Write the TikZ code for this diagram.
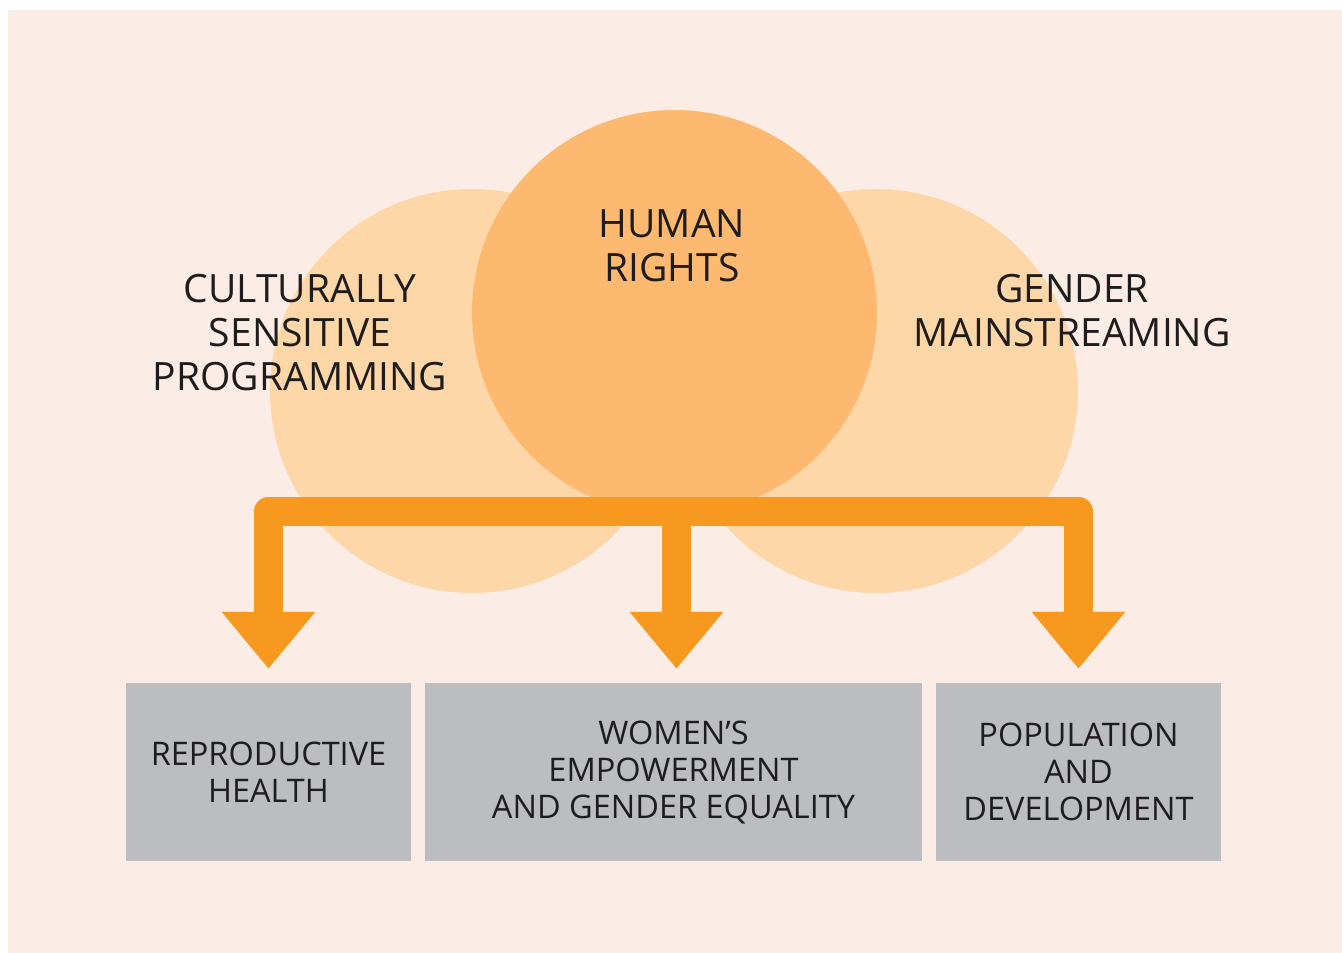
\documentclass[tikz,border=0pt]{standalone}
\usepackage{fontspec}
\setmainfont{Open Sans}
\usepackage{tikz}
\usetikzlibrary{arrows.meta}

\definecolor{bgpeach}{HTML}{FBEDE5}
\definecolor{lightring}{HTML}{FED7A8}
\definecolor{midring}{HTML}{FDB96F}
\definecolor{floworange}{HTML}{F7991E}
\definecolor{areagray}{HTML}{BCBDC0}
\definecolor{inkdark}{HTML}{1F1C1D}

\tikzset{
    ringtext/.style={text=inkdark, align=center, inner sep=0pt,
        font=\fontsize{39}{44}\selectfont},
    areabox/.style={fill=areagray, text=inkdark, align=center, inner sep=0pt,
        minimum height=178pt, font=\fontsize{32.5}{37}\selectfont},
    flow/.style={draw=floworange, line width=29pt, line join=round,
        -{Triangle[width=90pt, length=57pt]}, shorten >=14pt}
}

\begin{document}
\begin{tikzpicture}[x=1pt, y=-1pt]
    \useasboundingbox (0, 0) rectangle (1342, 953);
    \fill[bgpeach] (8, 10) rectangle (1342, 953);
    % three circles
    \fill[lightring] (472, 391) circle[radius=202];
    \fill[lightring] (876, 391) circle[radius=202];
    \fill[midring] (674.5, 312.5) circle[radius=202.5];
    % labels on the circles
    \node[ringtext] (culture) at (300, 333) {CULTURALLY\\SENSITIVE\\PROGRAMMING};
    \node[ringtext] (rights) at (672, 246) {HUMAN\\RIGHTS};
    \node[ringtext] (gender) at (1072, 311) {GENDER\\MAINSTREAMING};
    % the three areas
    \node[areabox, minimum width=285pt] (health) at (268.5, 772) {REPRODUCTIVE\\HEALTH};
    \node[areabox, minimum width=497pt] (women) at (673.5, 772) {WOMEN’S\\EMPOWERMENT\\AND GENDER EQUALITY};
    \node[areabox, minimum width=285pt] (population) at (1078.5, 772) {POPULATION\\AND\\DEVELOPMENT};
    % arrows
    \coordinate (hub) at (676.5, 511.5);
    \draw[flow] (hub) -| (health.north);
    \draw[flow] (hub) -| (population.north);
    \draw[flow] (hub) -- (hub |- women.north);
\end{tikzpicture}
\end{document}
